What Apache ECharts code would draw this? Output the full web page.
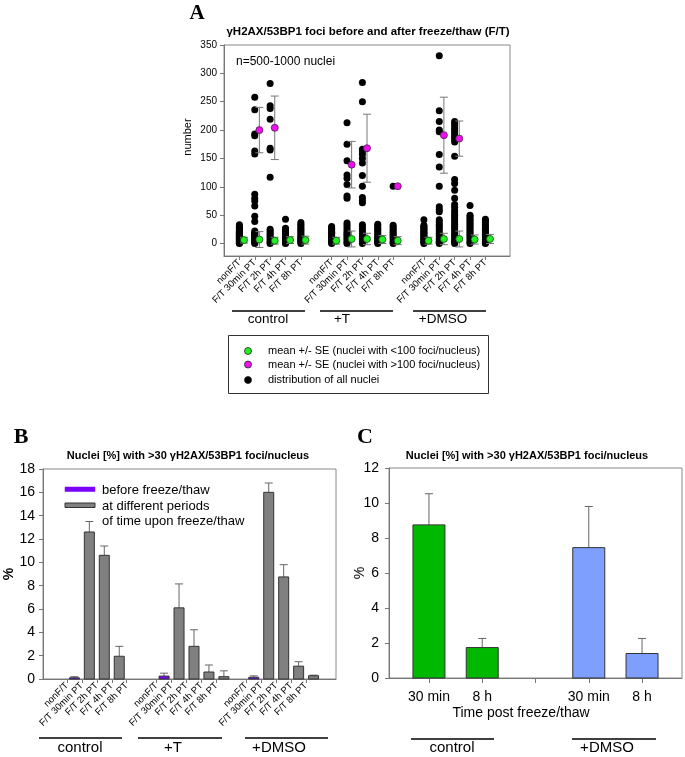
<!DOCTYPE html>
<html><head><meta charset="utf-8">
<script src="https://cdn.jsdelivr.net/npm/echarts@6/dist/echarts.min.js"></script>
<style>html,body{margin:0;padding:0;background:#fff}#c{width:685px;height:757px}</style>
</head><body><div id="c"></div><script>
// ---------- DATA ----------
const tickLabels = ['nonF/T', 'F/T 30min PT', 'F/T 2h PT', 'F/T 4h PT', 'F/T 8h PT'];
const groupNames = ['control', '+T', '+DMSO'];
const posA = [1, 2, 3, 4, 5, 7, 8, 9, 10, 11, 13, 14, 15, 16, 17];
const yTicksA = [0, 50, 100, 150, 200, 250, 300, 350];

// Panel A: distribution of all nuclei (foci per nucleus), one array per column
const ctrl_nonFT = [0,1,2,3,4,5,6,7,8,9,10,11,12,13,14,15,16,17,18,19,20,21,22,24,26,28,30,33];
const ctrl_30 = [258,236,193,190,163,158,87,80,75,66,48,39,22,20,18,16,14,12,10,8,6,4,2,0];
const ctrl_2h = [282,243,238,219,168,165,117,25,22,19,16,13,10,7,4,2,0];
const ctrl_4h = [43,27,25,23,21,19,17,15,13,11,9,7,5,3,1,0];
const ctrl_8h = [37,34,31,28,25,22,19,16,13,10,8,6,4,2,0];
const T_nonFT = [30,28,26,24,22,20,18,16,14,12,10,8,6,4,2,0];
const T_30 = [213,175,146,121,115,104,84,80,36,32,28,24,20,17,14,11,8,5,2,0];
const T_2h = [284,250,166,162,157,150,142,120,101,81,76,72,33,30,26,22,18,15,12,9,6,3,0];
const T_4h = [34,31,28,25,22,19,16,13,10,8,6,4,2,0];
const T_8h = [101,32,29,26,23,20,17,14,11,8,5,2,0];
const D_nonFT = [42,32,30,28,26,24,22,20,18,16,14,12,10,8,6,4,2,0];
const D_30 = [331,234,215,200,197,157,135,101,65,60,56,42,38,34,30,26,22,18,14,10,7,4,2,0];
const D_2h = [215,211,207,203,199,195,191,187,183,179,154,113,106,94,80,69,64,58,54,50,46,42,38,34,30,26,22,18,14,10,6,3,0];
const D_4h = [67,50,47,44,41,38,35,32,29,26,23,20,17,14,11,8,5,2,0];
const D_8h = [43,40,37,34,31,28,25,22,19,16,13,10,7,4,1,0];
const columnsA = [ctrl_nonFT, ctrl_30, ctrl_2h, ctrl_4h, ctrl_8h, T_nonFT, T_30, T_2h, T_4h, T_8h, D_nonFT, D_30, D_2h, D_4h, D_8h];

// means +/- SE (nuclei with <100 foci)
const meanLow = [6, 7, 5, 6, 6, 5, 8, 8, 7, 5, 5, 8, 8, 7, 8];
const seLow   = [5, 14, 6, 6, 7, 6, 14, 10, 7, 7, 6, 10, 14, 8, 8];
// means +/- SE (nuclei with >100 foci)
const meanHigh = [null, 200, 204, null, null, null, 139, 168, null, 101, null, 191, 185, null, null];
const seHigh   = [null, 40, 56, null, null, null, 41, 60, null, 0, null, 67, 31, null, null];

// Panel B: % nuclei with >30 foci
const posB = [1, 2, 3, 4, 5, 7, 8, 9, 10, 11, 13, 14, 15, 16, 17];
const beforeFT = [0.1, null, null, null, null, 0.25, null, null, null, null, 0.15, null, null, null, null];
const beforeFTerr = [0.1, null, null, null, null, 0.25, null, null, null, null, 0.12, null, null, null, null];
const afterFT = [null, 12.6, 10.6, 1.95, 0, null, 6.1, 2.8, 0.6, 0.2, null, 16.0, 8.75, 1.1, 0.28];
const afterFTerr = [null, 0.9, 0.8, 0.85, 0, null, 2.05, 1.42, 0.6, 0.5, null, 0.8, 1.05, 0.38, 0.05];

// Panel C
const cLabels = ['30 min', '8 h'];
const posC_ctrl = [1, 2];
const posC_dmso = [4, 5];
const cControl = [8.75, 1.74];
const cControlErr = [1.78, 0.52];
const cDMSO = [7.45, 1.40];
const cDMSOErr = [2.35, 0.86];

// ---------- CHART ----------
const FONT = "'Liberation Sans', Arial, sans-serif";
const chart = echarts.init(document.getElementById('c'), null, {renderer: 'canvas'});
const AX = '#777';

function errRender(up, color, cw) {
  return function (params, api) {
    const x = api.value(0), y = api.value(1), e = api.value(2);
    if (!(e > 0)) return null;
    const p0 = api.coord([x, up ? y : y - e]);
    const p1 = api.coord([x, y + e]);
    const st = {stroke: color, lineWidth: 1};
    const ch = [
      {type: 'line', shape: {x1: p0[0], y1: p0[1], x2: p1[0], y2: p1[1]}, style: st},
      {type: 'line', shape: {x1: p1[0] - cw, y1: p1[1], x2: p1[0] + cw, y2: p1[1]}, style: st}
    ];
    if (!up) ch.push({type: 'line', shape: {x1: p0[0] - cw, y1: p0[1], x2: p0[0] + cw, y2: p0[1]}, style: st});
    return {type: 'group', children: ch};
  };
}
function barRender(w, fill) {
  return function (params, api) {
    const x = api.value(0), v = api.value(1);
    if (!(v > 0)) return null;
    const p0 = api.coord([x, 0]), p1 = api.coord([x, v]);
    return {type: 'rect', shape: {x: p0[0] - w / 2, y: p1[1], width: w, height: p0[1] - p1[1]},
      style: {fill: fill, stroke: '#333', lineWidth: 1}};
  };
}

const OFF_A = 0.3;
const OFF_B = 0.5;

const dotsData = [];
columnsA.forEach((col, i) => col.forEach(v => dotsData.push([posA[i], v])));
const lowData = posA.map((p, i) => [p + OFF_A, meanLow[i], seLow[i]]);
const highData = [];
posA.forEach((p, i) => { if (meanHigh[i] != null) highData.push([p + OFF_A, meanHigh[i], seHigh[i]]); });

const beforeData = [], beforeErr = [], afterData = [], afterErr = [];
posB.forEach((p, i) => {
  if (beforeFT[i] != null) { beforeData.push([p + OFF_B, beforeFT[i]]); beforeErr.push([p + OFF_B, beforeFT[i], beforeFTerr[i]]); }
  if (afterFT[i] != null) { afterData.push([p + OFF_B, afterFT[i]]); afterErr.push([p + OFF_B, afterFT[i], afterFTerr[i]]); }
});

const cCtrlData = posC_ctrl.map((p, i) => [p, cControl[i], cControlErr[i]]);
const cDmsoData = posC_dmso.map((p, i) => [p, cDMSO[i], cDMSOErr[i]]);

function labelA(v) { const r = Math.round(v); const i = (r - 1) % 6; return (i >= 0 && i < 5) ? tickLabels[i] : ''; }
function labelC(v) { const r = Math.round(v); return r === 1 || r === 4 ? cLabels[0] : (r === 2 || r === 5 ? cLabels[1] : ''); }

const axisCommon = {
  axisLine: {show: true, onZero: false, lineStyle: {color: AX, width: 1}},
  splitLine: {show: false},
};

function txt(text, x, y, size, opts) {
  opts = opts || {};
  return {type: 'text', x: x, y: y, rotation: opts.rot || 0, silent: true,
    style: {text: text, x: 0, y: 0, fill: '#000', textAlign: opts.align || 'center', textVerticalAlign: 'middle',
      font: (opts.weight || 'normal') + ' ' + size + 'px ' + (opts.family || FONT)}};
}
function hline(x1, x2, y, w) {
  return {type: 'line', silent: true, shape: {x1: x1, y1: y, x2: x2, y2: y}, style: {stroke: '#000', lineWidth: w || 1.5}};
}
function dot(cx, cy, fill) {
  return {type: 'circle', silent: true, shape: {cx: cx, cy: cy, r: 3.5}, style: {fill: fill, stroke: '#222', lineWidth: 0.8}};
}

const SERIF = "'Liberation Serif', 'Times New Roman', serif";

const option = {
  animation: false,
  backgroundColor: '#fff',
  grid: [
    {left: 224, top: 45, width: 286, height: 211, show: true, borderColor: '#888', borderWidth: 1, outerBoundsMode: 'none'},
    {left: 43, top: 469, width: 293, height: 210, show: true, borderColor: '#888', borderWidth: 1, outerBoundsMode: 'none'},
    {left: 389, top: 468, width: 293, height: 210, show: true, borderColor: '#888', borderWidth: 1, outerBoundsMode: 'none'}
  ],
  xAxis: [
    Object.assign({gridIndex: 0, type: 'value', min: 0, max: 18.6,
      axisTick: {show: true, customValues: posA, length: 4, lineStyle: {color: AX}},
      axisLabel: {customValues: posA, rotate: 45, margin: 5, fontSize: 9.5, fontFamily: FONT, color: '#000', formatter: labelA}}, axisCommon),
    Object.assign({gridIndex: 1, type: 'value', min: -0.6, max: 19,
      axisTick: {show: true, customValues: posB, length: 4, lineStyle: {color: AX}},
      axisLabel: {customValues: posB, rotate: 45, margin: 5, fontSize: 9.5, fontFamily: FONT, color: '#000', formatter: labelA}}, axisCommon),
    Object.assign({gridIndex: 2, type: 'value', min: 0.25, max: 5.75,
      axisTick: {show: true, customValues: [1, 2, 3, 4, 5], length: 5, lineStyle: {color: AX}},
      axisLabel: {customValues: [1, 2, 4, 5], margin: 12, fontSize: 14, fontFamily: FONT, color: '#000', formatter: labelC}}, axisCommon)
  ],
  yAxis: [
    Object.assign({gridIndex: 0, type: 'value', min: -22, max: 350,
      axisTick: {show: true, customValues: yTicksA, length: 4, lineStyle: {color: AX}},
      axisLabel: {customValues: yTicksA, fontSize: 10, margin: 7, fontFamily: FONT, color: '#000'}}, axisCommon),
    Object.assign({gridIndex: 1, type: 'value', min: 0, max: 18, interval: 2,
      axisTick: {show: true, length: 4, lineStyle: {color: AX}},
      axisLabel: {fontSize: 14, margin: 8, fontFamily: FONT, color: '#000'}}, axisCommon),
    Object.assign({gridIndex: 2, type: 'value', min: 0, max: 12, interval: 2,
      axisTick: {show: true, length: 4, lineStyle: {color: AX}},
      axisLabel: {fontSize: 14, margin: 10, fontFamily: FONT, color: '#000'}}, axisCommon)
  ],
  series: [
    {type: 'scatter', xAxisIndex: 0, yAxisIndex: 0, data: dotsData, symbolSize: 7, itemStyle: {color: '#000', opacity: 1}, silent: true, z: 2},
    {type: 'custom', xAxisIndex: 0, yAxisIndex: 0, data: lowData, renderItem: errRender(false, '#777', 4), encode: {x: 0, y: 1}, silent: true, z: 3},
    {type: 'custom', xAxisIndex: 0, yAxisIndex: 0, data: highData, renderItem: errRender(false, '#777', 4), encode: {x: 0, y: 1}, silent: true, z: 3},
    {type: 'scatter', xAxisIndex: 0, yAxisIndex: 0, data: lowData.map(d => [d[0], d[1]]), symbolSize: 7,
      itemStyle: {color: '#22ee22', borderColor: '#1a4d1a', borderWidth: 0.8, opacity: 1}, silent: true, z: 4},
    {type: 'scatter', xAxisIndex: 0, yAxisIndex: 0, data: highData.map(d => [d[0], d[1]]), symbolSize: 7,
      itemStyle: {color: '#ee11ee', borderColor: '#4d1a4d', borderWidth: 0.8, opacity: 1}, silent: true, z: 4},

    {type: 'custom', xAxisIndex: 1, yAxisIndex: 1, data: beforeErr, renderItem: errRender(true, '#666', 4), encode: {x: 0, y: 1}, silent: true, z: 2},
    {type: 'custom', xAxisIndex: 1, yAxisIndex: 1, data: afterErr, renderItem: errRender(true, '#666', 4), encode: {x: 0, y: 1}, silent: true, z: 2},
    {type: 'custom', xAxisIndex: 1, yAxisIndex: 1, data: beforeData, renderItem: barRender(10, '#7a00ff'), encode: {x: 0, y: 1}, silent: true, z: 3},
    {type: 'custom', xAxisIndex: 1, yAxisIndex: 1, data: afterData, renderItem: barRender(10, '#808080'), encode: {x: 0, y: 1}, silent: true, z: 3},

    {type: 'custom', xAxisIndex: 2, yAxisIndex: 2, data: cCtrlData, renderItem: errRender(true, '#666', 4), encode: {x: 0, y: 1}, silent: true, z: 2},
    {type: 'custom', xAxisIndex: 2, yAxisIndex: 2, data: cDmsoData, renderItem: errRender(true, '#666', 4), encode: {x: 0, y: 1}, silent: true, z: 2},
    {type: 'custom', xAxisIndex: 2, yAxisIndex: 2, data: cCtrlData, renderItem: barRender(32, '#00b800'), encode: {x: 0, y: 1}, silent: true, z: 3},
    {type: 'custom', xAxisIndex: 2, yAxisIndex: 2, data: cDmsoData, renderItem: barRender(32, '#7f9fff'), encode: {x: 0, y: 1}, silent: true, z: 3}
  ],
  graphic: [
    // Panel A texts
    txt('A', 197, 14, 21, {weight: 'bold', family: SERIF}),
    txt('\u03B3H2AX/53BP1 foci before and after freeze/thaw (F/T)', 368, 32, 11.5, {weight: 'bold'}),
    txt('n=500-1000 nuclei', 236, 62, 12, {align: 'left'}),
    txt('number', 188, 137, 11, {rot: Math.PI / 2}),
    hline(232, 305, 311), hline(320, 393, 311), hline(413, 486, 311),
    txt(groupNames[0], 268, 319, 13.5), txt(groupNames[1], 342, 319, 13.5), txt(groupNames[2], 443, 319, 13.5),
    {type: 'rect', silent: true, shape: {x: 228.5, y: 335.5, width: 260, height: 58}, style: {fill: 'none', stroke: '#333', lineWidth: 1}},
    dot(248, 351, '#22ee22'), dot(248, 364.5, '#ee11ee'), dot(248, 380, '#000'),
    txt('mean +/- SE (nuclei with <100 foci/nucleus)', 268, 351, 11, {align: 'left'}),
    txt('mean +/- SE (nuclei with >100 foci/nucleus)', 268, 364.5, 11, {align: 'left'}),
    txt('distribution of all nuclei', 268, 380, 11, {align: 'left'}),

    // Panel B texts
    txt('B', 21, 437, 22, {weight: 'bold', family: SERIF}),
    txt('Nuclei [%] with >30 \u03B3H2AX/53BP1 foci/nucleus', 188, 456, 11, {weight: 'bold'}),
    txt('%', 9, 574, 14, {rot: Math.PI / 2, weight: 'bold'}),
    {type: 'rect', silent: true, shape: {x: 65, y: 487, width: 30, height: 4.5}, style: {fill: '#7a00ff', stroke: '#7a00ff', lineWidth: 0.5}},
    {type: 'rect', silent: true, shape: {x: 65, y: 503, width: 30, height: 4.5}, style: {fill: '#808080', stroke: '#333', lineWidth: 1}},
    txt('before freeze/thaw', 102, 490, 13, {align: 'left'}),
    txt('at different periods', 102, 506, 13, {align: 'left'}),
    txt('of time upon freeze/thaw', 102, 521, 13, {align: 'left'}),
    hline(39, 122, 738), hline(138, 222, 738), hline(245, 328, 738),
    txt(groupNames[0], 80, 748, 15), txt(groupNames[1], 173, 748, 15), txt(groupNames[2], 279, 748, 15),

    // Panel C texts
    txt('C', 365, 437, 22, {weight: 'bold', family: SERIF}),
    txt('Nuclei [%] with >30 \u03B3H2AX/53BP1 foci/nucleus', 527, 456, 11, {weight: 'bold'}),
    txt('%', 360, 573, 14, {rot: Math.PI / 2}),
    txt('Time post freeze/thaw', 521, 713, 14),
    hline(411, 494, 739), hline(572, 656, 739),
    txt(groupNames[0], 452, 748, 15), txt(groupNames[2], 607, 748, 15)
  ]
};
chart.setOption(option);
</script></body></html>
